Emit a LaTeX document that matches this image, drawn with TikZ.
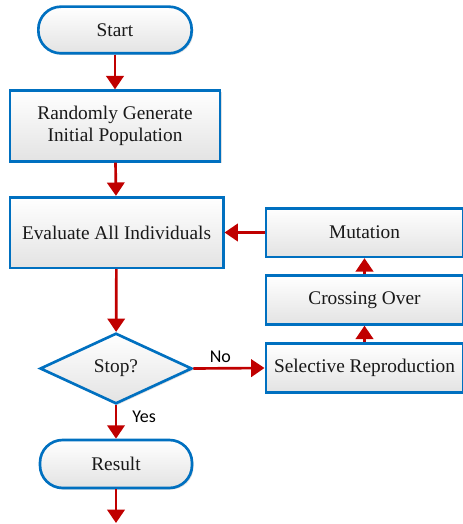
\documentclass[tikz,border=0pt]{standalone}
\usepackage{fontspec}
\setmainfont{Liberation Serif}
\newfontfamily\labelfont{Carlito}
\usepackage{tikz}
\usetikzlibrary{shapes.geometric, arrows.meta, positioning, shadows}

\definecolor{boxblue}{RGB}{0,112,192}
\definecolor{arrowred}{RGB}{192,0,0}

\begin{document}
\begin{tikzpicture}[
    x=0.75pt, y=-0.75pt,
    every node/.style={font=\fontsize{14.5}{17}\selectfont, text=black!90},
    box/.style={rectangle, draw=boxblue, line width=2pt, top color=white, bottom color=black!11,
        drop shadow={shadow xshift=1.2pt, shadow yshift=-1.2pt, opacity=0.25}, align=center, inner sep=2pt},
    terminal/.style={box, rounded corners=17pt, minimum width=115pt, minimum height=35pt},
    decision/.style={diamond, draw=boxblue, line width=2pt, top color=white, bottom color=black!11,
        drop shadow={shadow xshift=1.2pt, shadow yshift=-1.2pt, opacity=0.25}, inner sep=0pt, aspect=2.1,
        minimum width=114pt, minimum height=53pt},
    arrow/.style={-{Triangle[width=13pt, length=10pt]}, draw=arrowred, fill=arrowred, line width=2pt},
    answer/.style={font=\labelfont\fontsize{13.5}{16}\selectfont, text=black}
]
    \useasboundingbox (0,0) rectangle (463,524);

    % main column
    \node[terminal] (start) at (115,30) {Start};
    \node[box, minimum width=157.5pt, minimum height=53pt] (init) at (115,126) {Randomly Generate\\Initial Population};
    \node[box, minimum width=160pt, minimum height=53pt] (eval) at (116.5,232.5) {Evaluate All Individuals};
    \node[decision] (stop) at (116,368.5) {Stop?};
    \node[terminal, minimum width=114pt, minimum height=36pt] (result) at (116,464) {Result};
    \coordinate (out) at (116,523);

    % genetic operators
    \node[box, minimum width=148pt, minimum height=36.5pt] (select) at (364.5,368) {Selective Reproduction};
    \node[box, minimum width=148pt, minimum height=36.5pt] (cross) at (364.5,300) {Crossing Over};
    \node[box, minimum width=148pt, minimum height=36.5pt] (mutate) at (364.5,232.5) {Mutation};

    \draw[arrow] (start) -- (init);
    \draw[arrow] (init) -- (eval);
    \draw[arrow] (eval) -- (stop);
    \draw[arrow] (stop) -- node[answer, right, pos=0.35, xshift=8pt] {Yes} (result);
    \draw[arrow] (result) -- (out);
    \draw[arrow] (stop.east) -- node[answer, above, pos=0.38] {No} (select.west);
    \draw[arrow] (select) -- (cross);
    \draw[arrow] (cross) -- (mutate);
    \draw[arrow] (mutate) -- (eval);
\end{tikzpicture}
\end{document}
